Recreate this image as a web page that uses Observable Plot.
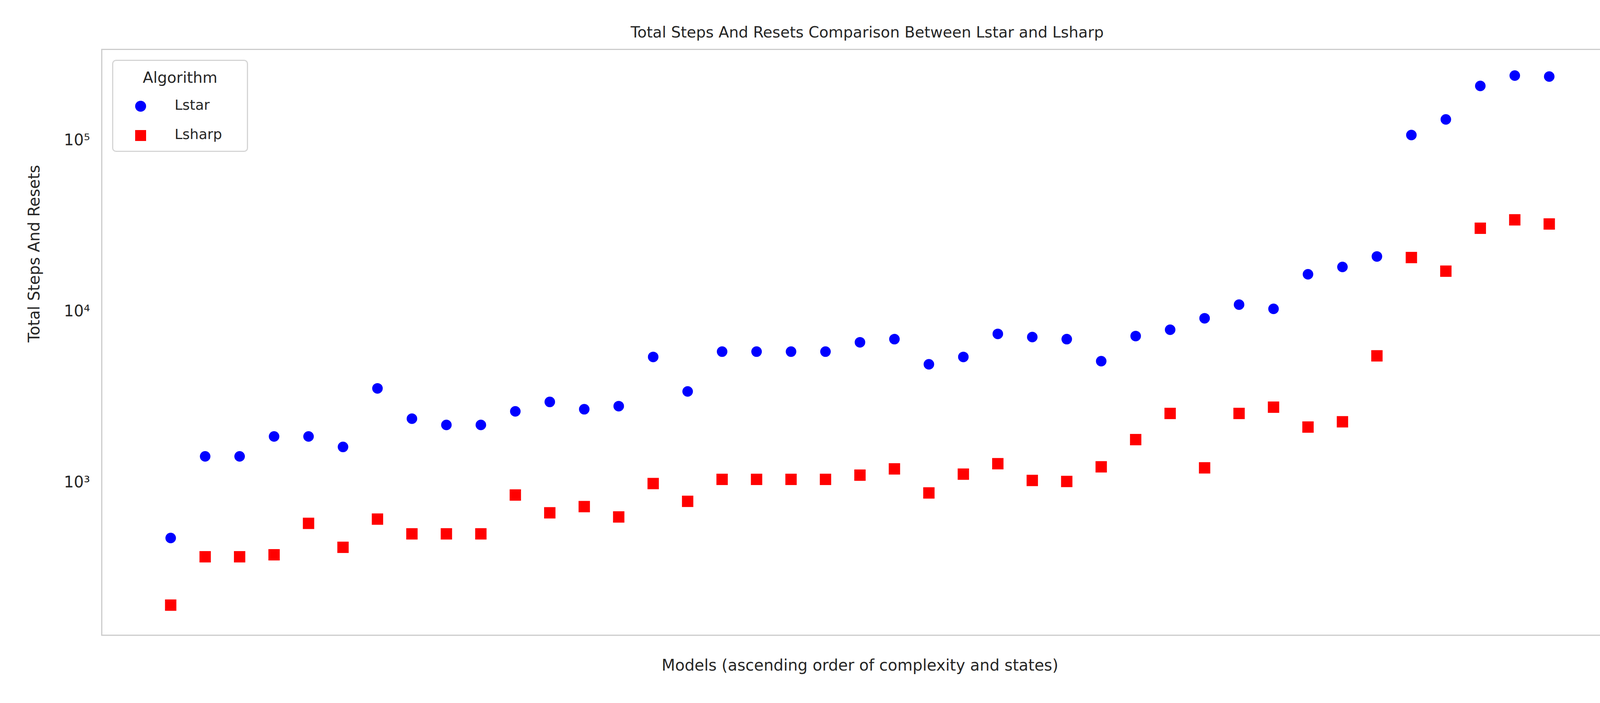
<!DOCTYPE html>
<html><head><meta charset="utf-8">
<script src="https://cdn.jsdelivr.net/npm/d3@7"></script>
<script src="https://cdn.jsdelivr.net/npm/@observablehq/plot@0.6"></script>
<style>
html,body{margin:0;padding:0;background:#fff;font-family:"DejaVu Sans",sans-serif;color:#262626;overflow:hidden;}
#wrap{position:relative;width:4200px;height:1800px;overflow:hidden;}
#title{height:110px;line-height:166px;text-align:center;font-size:39px;padding-left:240px;box-sizing:border-box;}
#chart svg{display:block;}
#legend{position:absolute;left:287px;top:153px;width:348px;height:236px;border:3px solid #d5d5d5;border-radius:10px;box-sizing:border-box;background:#fff;font-size:36px;}
</style></head><body>
<div id="wrap">
<div id="title">Total Steps And Resets Comparison Between Lstar and Lsharp</div>
<div id="chart"></div>
<div id="legend">
 <div style="position:absolute;top:20px;width:100%;text-align:center;font-size:39px;">Algorithm</div>
 <div style="position:absolute;left:56px;top:102px;width:28px;height:28px;border-radius:50%;background:#0000ff"></div>
 <div style="position:absolute;left:157px;top:92px;">Lstar</div>
 <div style="position:absolute;left:56px;top:177px;width:28px;height:28px;background:#ff0000"></div>
 <div style="position:absolute;left:157px;top:167px;">Lsharp</div>
</div>
</div>
<script>
const models = d3.range(41);
const lstar = [474,1422,1422,1858,1858,1614,3550,2360,2170,2170,2606,2958,2680,2795,5420,3405,5820,5820,5820,5820,6600,6885,4910,5420,7390,7080,6885,5120,7180,7815,9120,10960,10350,16480,18200,20950,107400,132500,208000,239000,236000];
const lsharp = [192,368,368,378,577,418,611,501,501,501,845,665,723,629,986,776,1043,1043,1043,1043,1104,1201,869,1119,1288,1028,1014,1235,1781,2533,1218,2533,2756,2109,2264,5500,20650,17190,30630,34300,32440];
const yTicks = [1e3,1e4,1e5];
const sup = {3:"³",4:"⁴",5:"⁵"};
const svg = Plot.plot({
  width:4200, height:1690,
  marginTop:16, marginBottom:174, marginLeft:260, marginRight:58,
  style:{fontFamily:"DejaVu Sans", fontSize:"40px", color:"#262626", maxWidth:"none"},
  x:{domain:[-2,42], axis:null},
  y:{type:"log", domain:[128,340000]},
  marks:[
    Plot.frame({stroke:"#cccccc", strokeWidth:3}),
    Plot.axisY({ticks:yTicks, tickSize:0, tickPadding:30, fontSize:40,
      tickFormat:d=>"10"+sup[Math.round(Math.log10(d))], label:null}),
    Plot.text(["Total Steps And Resets"],{frameAnchor:"left", dx:-172, rotate:-90, fontSize:40, fill:"#262626"}),
    Plot.text(["Models (ascending order of complexity and states)"],{frameAnchor:"bottom", dy:90, fontSize:40, fill:"#262626"}),
    Plot.dot(models,{x:d=>d, y:d=>lstar[d], r:13.5, fill:"#0000ff", stroke:"none"}),
    Plot.dot(models,{x:d=>d, y:d=>lsharp[d], r:16.4, symbol:"square", fill:"#ff0000", stroke:"none"})
  ]
});
document.getElementById("chart").appendChild(svg);
</script>
</body></html>
